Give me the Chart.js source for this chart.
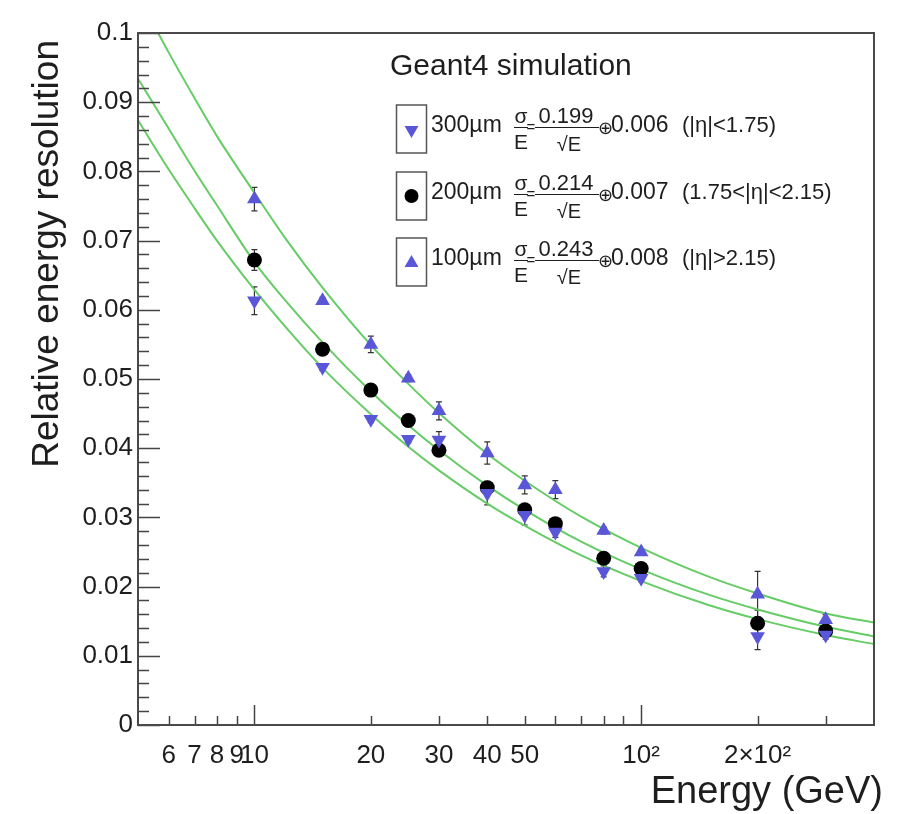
<!DOCTYPE html>
<html>
<head>
<meta charset="utf-8">
<script src="https://cdn.jsdelivr.net/npm/chart.js@4.4.1/dist/chart.umd.min.js"></script>
<style>
    html, body { margin: 0; padding: 0; background: #fff; }
</style>
</head>
<body>
<canvas id="res_plot" width="902" height="814"></canvas>
<script>
// beam energies (GeV) of the simulated points
const energies = [10, 15, 20, 25, 30, 40, 50, 60, 80, 100, 200, 300];

// relative energy resolution per sensor thickness, with errors
const res300 = [0.0613, 0.0517, 0.0442, 0.0413, 0.0412, 0.0335, 0.0303, 0.0279, 0.0222, 0.0212, 0.0128, 0.0130];
const err300 = [0.0020, 0.0005, 0.0005, 0.0005, 0.0012, 0.0017, 0.0014, 0.0008, 0.0008, 0.0005, 0.0019, 0.0006];
const res200 = [0.0672, 0.0543, 0.0484, 0.0440, 0.0397, 0.0343, 0.0311, 0.0291, 0.0241, 0.0226, 0.0147, 0.0136];
const err200 = [0.0015, 0.0005, 0.0006, 0.0005, 0.0006, 0.0007, 0.0007, 0.0006, 0.0005, 0.0005, 0.0019, 0.0005];
const res100 = [0.0760, 0.0613, 0.0550, 0.0501, 0.0454, 0.0393, 0.0347, 0.0340, 0.0281, 0.0250, 0.0189, 0.0152];
const err100 = [0.0017, 0.0005, 0.0012, 0.0005, 0.0013, 0.0016, 0.0013, 0.0013, 0.0005, 0.0005, 0.0033, 0.0008];

// fit curves
const fitEnergies = [5, 6, 7, 8, 10, 12, 15, 20, 25, 30, 40, 50, 70, 100, 150, 200, 300, 400];
const fit300 = [0.0874, 0.0803, 0.0747, 0.0700, 0.0629, 0.0576, 0.0516, 0.0449, 0.0402, 0.0368, 0.0320, 0.0288, 0.0245, 0.0208, 0.0173, 0.0153, 0.0130, 0.0117];
const fit200 = [0.0934, 0.0862, 0.0801, 0.0751, 0.0669, 0.0614, 0.0553, 0.0482, 0.0433, 0.0397, 0.0346, 0.0311, 0.0265, 0.0225, 0.0188, 0.0167, 0.0142, 0.0128];
const fit100 = [0.1055, 0.0972, 0.0906, 0.0851, 0.0769, 0.0704, 0.0632, 0.0549, 0.0493, 0.0451, 0.0392, 0.0353, 0.0301, 0.0256, 0.0214, 0.0190, 0.0161, 0.0148];

// legend text
const legendTitle = 'Geant4 simulation';
const thickness = ['300\u00b5m', '200\u00b5m', '100\u00b5m'];
const stochTerm = ['0.199', '0.214', '0.243'];
const constTerm = ['0.006', '0.007', '0.008'];
const etaRange = ['(|\u03b7|<1.75)', '(1.75<|\u03b7|<2.15)', '(|\u03b7|>2.15)'];

// axis ticks
const xTickValues = [6, 7, 8, 9, 10, 20, 30, 40, 50, 60, 70, 80, 90, 100, 200, 300];
const xTickLabels = ['6', '7', '8', '9', '10', '20', '30', '40', '50', '', '', '', '', '10\u00b2', '2\u00d710\u00b2', ''];
const xMajor = [10, 100];
const yTickLabels = ['0', '0.01', '0.02', '0.03', '0.04', '0.05', '0.06', '0.07', '0.08', '0.09', '0.1'];
const yMinorStep = 0.002;

const xTitle = 'Energy (GeV)';
const yTitle = 'Relative energy resolution';

const FONT = '"Liberation Sans", Arial, Helvetica, sans-serif';
const BLUE = '#5a56d8';
const GREEN = '#66cc66';
const INK = '#1e1e1e';

function pts(xs, ys) {
    return xs.map((x, i) => ({ x: x, y: ys[i] }));
}

const errorBars = {
    id: 'errorBars',
    beforeDatasetsDraw(chart) {
        const ctx = chart.ctx;
        const xs = chart.scales.x, ys = chart.scales.y;
        ctx.save();
        ctx.strokeStyle = '#333';
        ctx.lineWidth = 1.2;
        chart.data.datasets.forEach(ds => {
            if (!ds.errors) return;
            ds.data.forEach((p, i) => {
                const e = ds.errors[i];
                const px = xs.getPixelForValue(p.x);
                const y1 = ys.getPixelForValue(p.y - e);
                const y2 = ys.getPixelForValue(p.y + e);
                ctx.beginPath();
                ctx.moveTo(px, y1); ctx.lineTo(px, y2);
                ctx.moveTo(px - 3, y1); ctx.lineTo(px + 3, y1);
                ctx.moveTo(px - 3, y2); ctx.lineTo(px + 3, y2);
                ctx.stroke();
            });
        });
        ctx.restore();
    }
};

function marker(ctx, style, x, y, r) {
    ctx.beginPath();
    if (style === 'circle') {
        ctx.arc(x, y, r, 0, Math.PI * 2);
    } else {
        const s = style === 'down' ? -1 : 1;
        ctx.moveTo(x, y - s * r);
        ctx.lineTo(x + r * 0.866, y + s * r * 0.5);
        ctx.lineTo(x - r * 0.866, y + s * r * 0.5);
        ctx.closePath();
    }
    ctx.fill();
}

const frameAndTicks = {
    id: 'frameAndTicks',
    afterDraw(chart) {
        const ctx = chart.ctx;
        const a = chart.chartArea;
        const xs = chart.scales.x, ys = chart.scales.y;
        ctx.save();
        ctx.strokeStyle = '#444';
        ctx.lineWidth = 1.5;
        ctx.beginPath();
        xs.ticks.forEach(t => {
            const px = Math.round(xs.getPixelForValue(t.value)) + 0.5;
            const len = xMajor.includes(t.value) ? 20 : 9;
            ctx.moveTo(px, a.bottom); ctx.lineTo(px, a.bottom - len);
        });
        ys.ticks.forEach((t, i) => {
            const py = Math.round(ys.getPixelForValue(t.value)) + 0.5;
            const len = i % 5 === 0 ? 22 : 11;
            ctx.moveTo(a.left, py); ctx.lineTo(a.left + len, py);
        });
        ctx.stroke();
        ctx.lineWidth = 2;
        ctx.strokeStyle = '#4a4a4a';
        ctx.strokeRect(a.left, a.top, a.right - a.left, a.bottom - a.top);

        // axis titles
        ctx.fillStyle = INK;
        ctx.font = '38px ' + FONT;
        ctx.textAlign = 'right';
        ctx.textBaseline = 'alphabetic';
        ctx.fillText(xTitle, 883, 803);
        ctx.save();
        ctx.translate(58, 40);
        ctx.rotate(-Math.PI / 2);
        ctx.font = '37px ' + FONT;
        ctx.fillText(yTitle, 0, 0);
        ctx.restore();

        // legend
        ctx.textAlign = 'left';
        ctx.font = '30px ' + FONT;
        ctx.fillText(legendTitle, 390, 75);
        const styles = ['down', 'circle', 'up'];
        for (let i = 0; i < 3; i++) {
            const cy = Math.round(129 + i * 66.7);
            ctx.strokeStyle = '#555';
            ctx.lineWidth = 1.5;
            ctx.strokeRect(396.5, cy - 24, 30, 48);
            ctx.fillStyle = styles[i] === 'circle' ? '#000' : BLUE;
            marker(ctx, styles[i], 411.5, cy + (styles[i] === 'circle' ? 0 : 1), styles[i] === 'circle' ? 7 : 8);

            ctx.fillStyle = INK;
            ctx.textAlign = 'left';
            ctx.font = '23px ' + FONT;
            ctx.fillText(thickness[i], 431, cy + 3);

            ctx.textAlign = 'center';
            ctx.font = '21px ' + FONT;
            ctx.fillText('\u03c3', 521, cy - 6);
            ctx.fillText('E', 521, cy + 20);
            ctx.font = '15px ' + FONT;
            ctx.fillText('=', 531, cy + 3);
            ctx.font = '22px ' + FONT;
            ctx.fillText(stochTerm[i], 566, cy - 6);
            ctx.font = '20px ' + FONT;
            ctx.fillText('\u221aE', 569, cy + 22);
            ctx.strokeStyle = INK;
            ctx.lineWidth = 1;
            ctx.beginPath();
            ctx.moveTo(514, cy - 1.5); ctx.lineTo(528, cy - 1.5);
            ctx.moveTo(535, cy - 1.5); ctx.lineTo(599, cy - 1.5);
            ctx.stroke();

            ctx.textAlign = 'left';
            ctx.font = '18px ' + FONT;
            ctx.fillText('\u2295', 598, cy + 5);
            ctx.font = '23px ' + FONT;
            ctx.fillText(constTerm[i], 611, cy + 3);
            ctx.font = '22px ' + FONT;
            ctx.fillText(etaRange[i], 682, cy + 3);
        }
        ctx.restore();
    }
};

var ctx = document.getElementById('res_plot').getContext('2d');
var resChart = new Chart(ctx, {
    type: 'scatter',
    data: {
        datasets: [{
            label: 'fit 100um',
            data: pts(fitEnergies, fit100),
            showLine: true,
            borderColor: GREEN,
            borderWidth: 2,
            pointRadius: 0,
            cubicInterpolationMode: 'monotone',
            order: 10
        }, {
            label: 'fit 200um',
            data: pts(fitEnergies, fit200),
            showLine: true,
            borderColor: GREEN,
            borderWidth: 2,
            pointRadius: 0,
            cubicInterpolationMode: 'monotone',
            order: 11
        }, {
            label: 'fit 300um',
            data: pts(fitEnergies, fit300),
            showLine: true,
            borderColor: GREEN,
            borderWidth: 2,
            pointRadius: 0,
            cubicInterpolationMode: 'monotone',
            order: 12
        }, {
            label: '200um',
            data: pts(energies, res200),
            errors: err200,
            pointStyle: 'circle',
            pointRadius: 7.5,
            backgroundColor: '#000',
            borderColor: '#000',
            borderWidth: 0,
            order: 3
        }, {
            label: '100um',
            data: pts(energies, res100),
            errors: err100,
            pointStyle: 'triangle',
            pointRadius: 8.5,
            backgroundColor: BLUE,
            borderColor: BLUE,
            borderWidth: 0,
            order: 2
        }, {
            label: '300um',
            data: pts(energies, res300),
            errors: err300,
            pointStyle: 'triangle',
            rotation: 180,
            pointRadius: 8.5,
            backgroundColor: BLUE,
            borderColor: BLUE,
            borderWidth: 0,
            order: 1
        }]
    },
    options: {
        responsive: false,
        animation: false,
        events: [],
        layout: {
            padding: { top: 33, right: 28, left: 0, bottom: 0 }
        },
        plugins: {
            legend: { display: false },
            tooltip: { enabled: false }
        },
        scales: {
            x: {
                type: 'logarithmic',
                min: 5,
                max: 400,
                grid: { display: false, drawTicks: false },
                border: { display: false },
                afterBuildTicks(scale) {
                    scale.ticks = xTickValues.map(v => ({ value: v }));
                },
                afterFit(scale) {
                    scale.height = 89;
                },
                ticks: {
                    autoSkip: false,
                    maxRotation: 0,
                    padding: 15,
                    color: INK,
                    font: { family: FONT, size: 26 },
                    callback: (value, i) => xTickLabels[i]
                }
            },
            y: {
                min: 0,
                max: 0.1,
                grid: { display: false, drawTicks: false },
                border: { display: false },
                afterBuildTicks(scale) {
                    const t = [];
                    for (let i = 0; i <= 50; i++) t.push({ value: Math.round(i * yMinorStep * 1000) / 1000 });
                    scale.ticks = t;
                },
                afterFit(scale) {
                    scale.width = 138;
                },
                ticks: {
                    autoSkip: false,
                    padding: 5,
                    color: INK,
                    font: { family: FONT, size: 26 },
                    callback: (value, i) => (i % 5 === 0 ? yTickLabels[i / 5] : '')
                }
            }
        }
    },
    plugins: [errorBars, frameAndTicks]
});
</script>
</body>
</html>
